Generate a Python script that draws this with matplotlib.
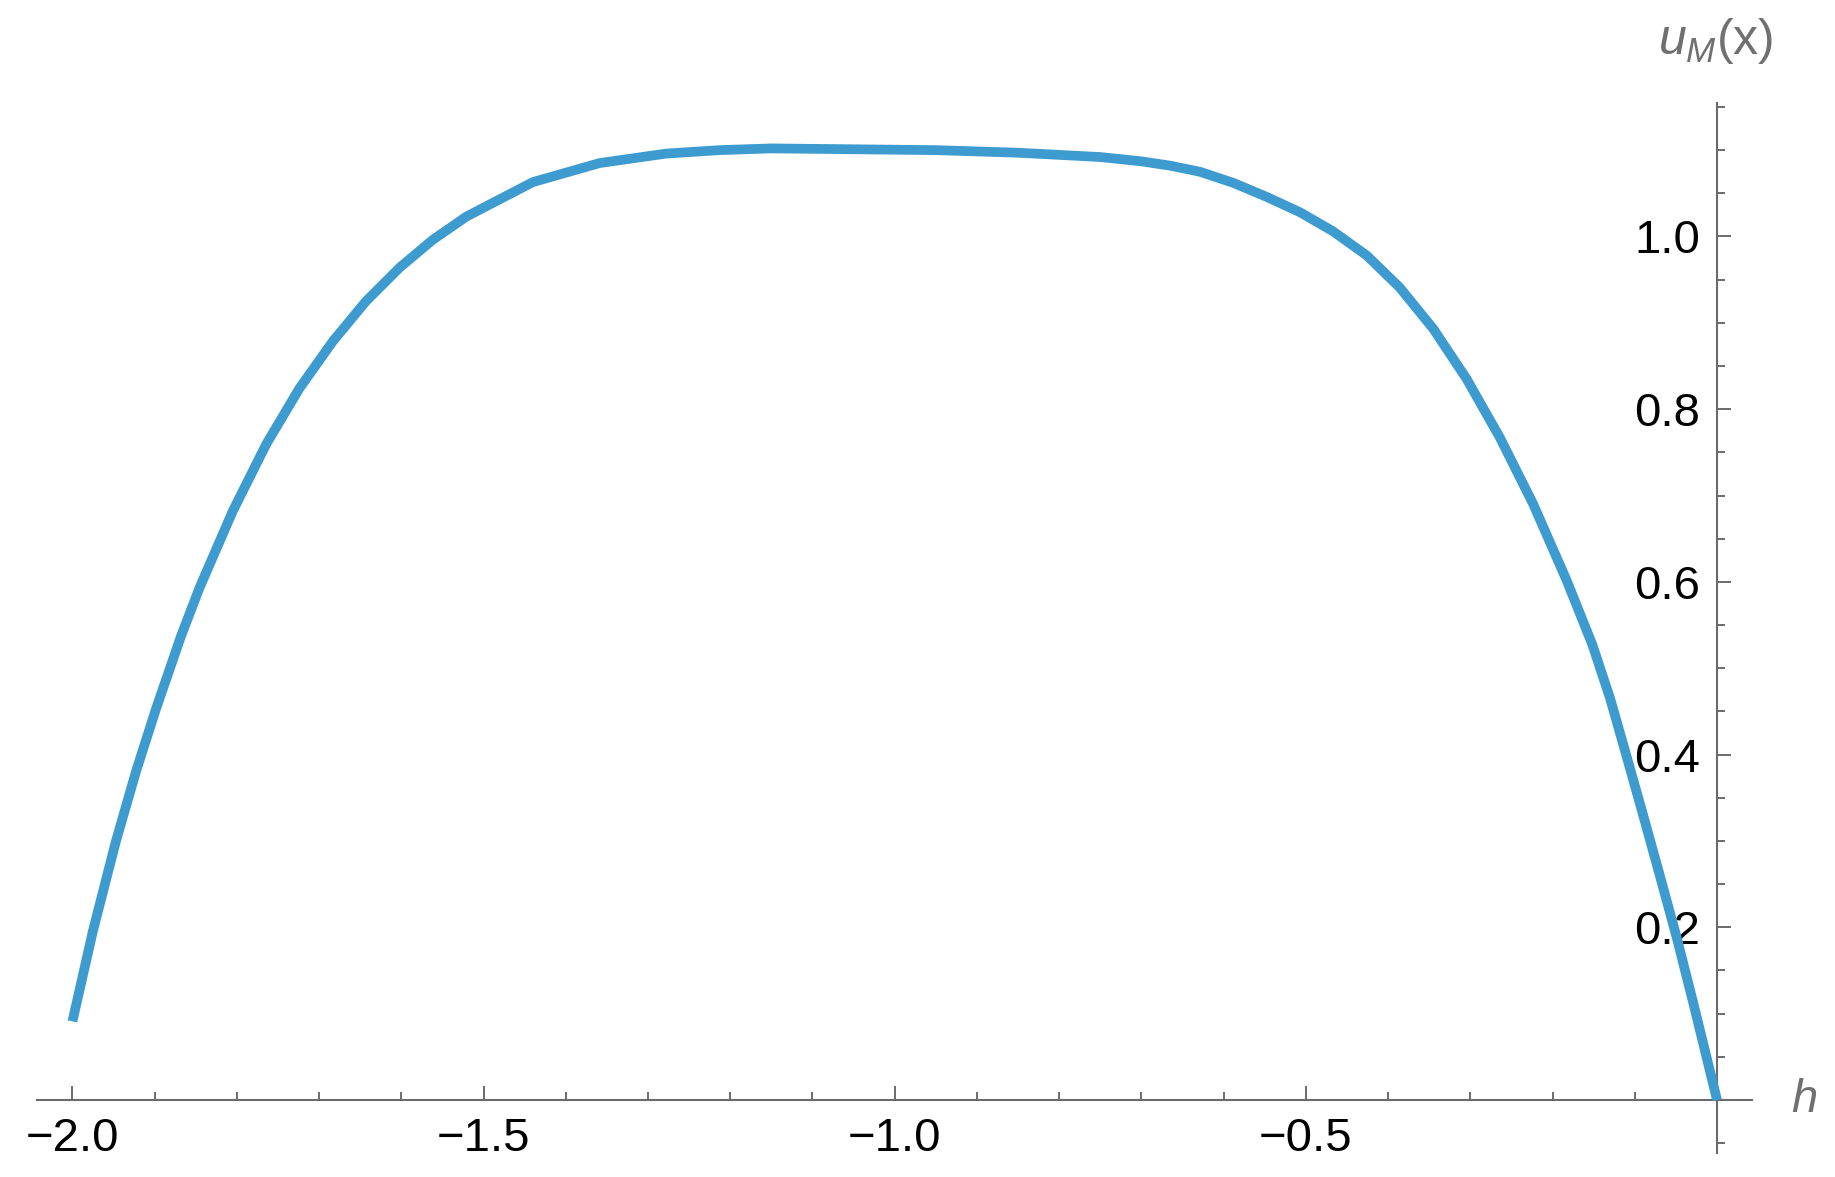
import numpy as np
import matplotlib
matplotlib.use('Agg')
import matplotlib.pyplot as plt
from matplotlib.ticker import MultipleLocator, FixedLocator

plt.rcParams['font.family'] = ['Liberation Sans', 'DejaVu Sans']
plt.rcParams['mathtext.fontset'] = 'custom'
plt.rcParams['mathtext.it'] = 'Liberation Sans:italic'
plt.rcParams['mathtext.rm'] = 'Liberation Sans'

# values
h = [-2.000, -1.975, -1.947, -1.9225, -1.898, -1.868, -1.8455, -1.805,
     -1.764, -1.724, -1.683, -1.643, -1.602, -1.562, -1.521, -1.440,
     -1.359, -1.278, -1.213, -1.150, -1.050, -0.950, -0.850, -0.750,
     -0.700, -0.665, -0.629, -0.588, -0.548, -0.507, -0.467, -0.426,
     -0.386, -0.345, -0.3045, -0.264, -0.2235, -0.183, -0.1515, -0.130,
     -0.110, -0.0896, -0.0693, -0.049, -0.0288, 0.000]
u = [0.091, 0.196, 0.300, 0.381, 0.454, 0.537, 0.593, 0.682,
     0.760, 0.824, 0.879, 0.925, 0.964, 0.996, 1.023, 1.063,
     1.085, 1.096, 1.100, 1.102, 1.101, 1.100, 1.097, 1.092,
     1.087, 1.082, 1.075, 1.062, 1.046, 1.028, 1.006, 0.978,
     0.941, 0.893, 0.835, 0.767, 0.690, 0.602, 0.527, 0.465,
     0.398, 0.329, 0.259, 0.188, 0.112, 0.000]
xticks = [-2.0, -1.5, -1.0, -0.5]
yticks = [0.2, 0.4, 0.6, 0.8, 1.0]

axcol = '#6b6b6b'
fig = plt.figure(figsize=(18.35, 11.77), dpi=100)
ax = fig.add_axes([0.0202, 0.0204, 0.9346, 0.8921])

ax.plot(h, u, color='#3e9bd0', lw=7, zorder=3, solid_capstyle='butt',
        solid_joinstyle='round')

ax.set_xlim(-2.043, 0.0426)
ax.set_ylim(-0.0614, 1.1546)

ax.spines['left'].set_position(('data', 0))
ax.spines['bottom'].set_position(('data', 0))
ax.spines['right'].set_visible(False)
ax.spines['top'].set_visible(False)
for s in ['left', 'bottom']:
    ax.spines[s].set_color(axcol)
    ax.spines[s].set_linewidth(1.5)

ax.xaxis.set_major_locator(FixedLocator(xticks))
ax.yaxis.set_major_locator(FixedLocator(yticks))
ax.xaxis.set_minor_locator(MultipleLocator(0.1))
ax.yaxis.set_minor_locator(MultipleLocator(0.05))
ax.set_xticklabels(['\u22122.0', '\u22121.5', '\u22121.0', '\u22120.5'])
ax.set_yticklabels(['0.2', '0.4', '0.6', '0.8', '1.0'])

ax.tick_params(which='major', direction='in', length=10, width=1.4, color=axcol,
               labelsize=34, labelcolor='black')
ax.tick_params(which='minor', direction='in', length=6, width=1.4, color=axcol)
ax.tick_params(axis='x', which='major', pad=12)
ax.tick_params(axis='y', which='major', pad=12)

fig.text(1716 / 1835, 1 - 41 / 1177, r'$u_M$(x)', fontsize=36, color='#707070',
         ha='center', va='center')
fig.text(1804 / 1835, 1 - 1100 / 1177, 'h', fontsize=34, color='#707070',
         style='italic', ha='center', va='center')

fig.savefig('out.png', dpi=100)
